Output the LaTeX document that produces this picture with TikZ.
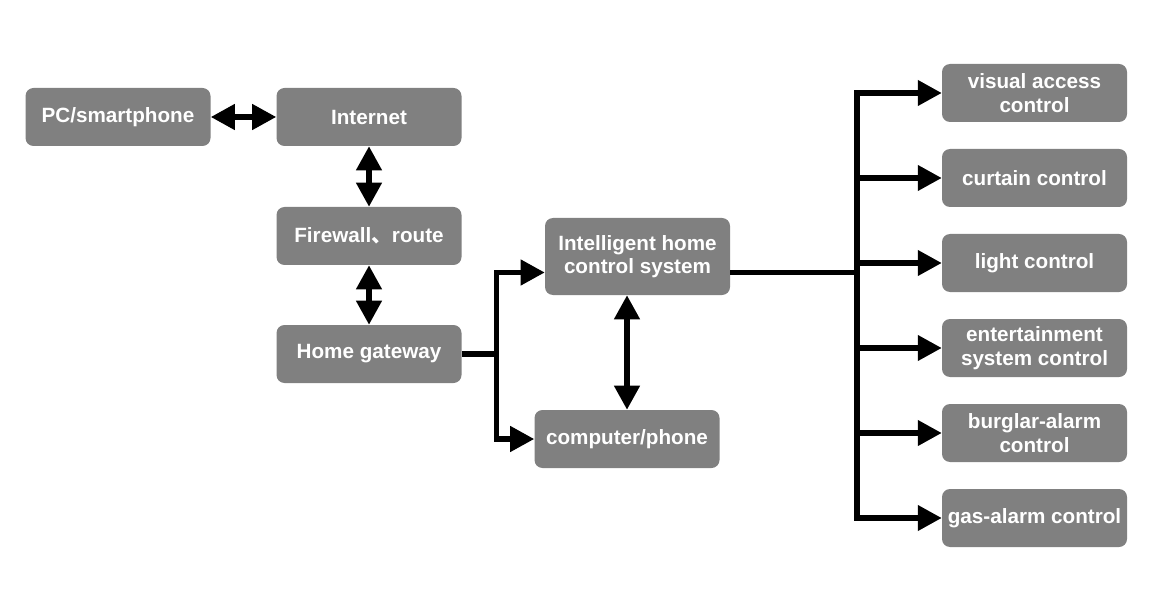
\documentclass[tikz,border=0pt]{standalone}
\usepackage{fontspec}
\setmainfont{Liberation Sans}
\newfontfamily\cjkfont{Noto Sans CJK SC}
\usepackage{xcolor}
\definecolor{boxGray}{HTML}{808080}
\usetikzlibrary{arrows.meta, positioning, calc}

\begin{document}
\begin{tikzpicture}[x=0.75pt, y=-0.75pt,
  box/.style={
    fill=boxGray, rounded corners=6pt,
    minimum width=138.75pt, minimum height=43.5pt, inner sep=2pt,
    align=center, text=white, font=\fontsize{15.5}{17.5}\selectfont\bfseries
  },
  link/.style={-{Triangle[length=18pt, width=18.5pt]}, line width=4pt},
  twoway/.style={{Triangle[length=18pt, width=18.5pt]}-{Triangle[length=18pt, width=18.5pt]}, line width=4pt}
]
  \useasboundingbox (0,0) rectangle (1176,609);
  % left chain
  \node[box] (pc) at (118,117) {PC/smartphone};
  \node[box] (internet) at (369,117) {Internet};
  \node[box] (firewall) at (369,236) {Firewall{\cjkfont 、}route};
  \node[box] (gateway) at (369,354) {Home gateway};
  % middle
  \node[box, minimum height=57.75pt] (ihcs) at (637.5,256.5) {Intelligent home\\control system};
  \node[box] (computer) at (627,439) {computer/phone};
  % right column
  \node[box] (visual) at (1034.5,93) {visual access\\control};
  \node[box] (curtain) at (1034.5,178) {curtain control};
  \node[box] (light) at (1034.5,263) {light control};
  \node[box] (fun) at (1034.5,348) {entertainment\\system control};
  \node[box] (burglar) at (1034.5,433) {burglar-alarm\\control};
  \node[box] (gas) at (1034.5,518) {gas-alarm control};

  \draw[twoway] (pc) -- (internet);
  \draw[twoway] (internet) -- (firewall);
  \draw[twoway] (firewall) -- (gateway);
  \draw[link] (gateway.east) -- ++(35,0) |- ($(ihcs.west)+(0,16)$);
  \draw[link] (gateway.east) -- ++(35,0) |- (computer.west);
  \draw[twoway] (ihcs.south -| computer) -- (computer.north);
  \coordinate (bus) at (857,272.5);
  \draw[line width=4pt] ($(ihcs.east)+(0,16)$) -- (bus);
  \foreach \n in {visual,curtain,light,fun,burglar,gas}
    \draw[link] (bus) |- (\n.west);
\end{tikzpicture}
\end{document}
